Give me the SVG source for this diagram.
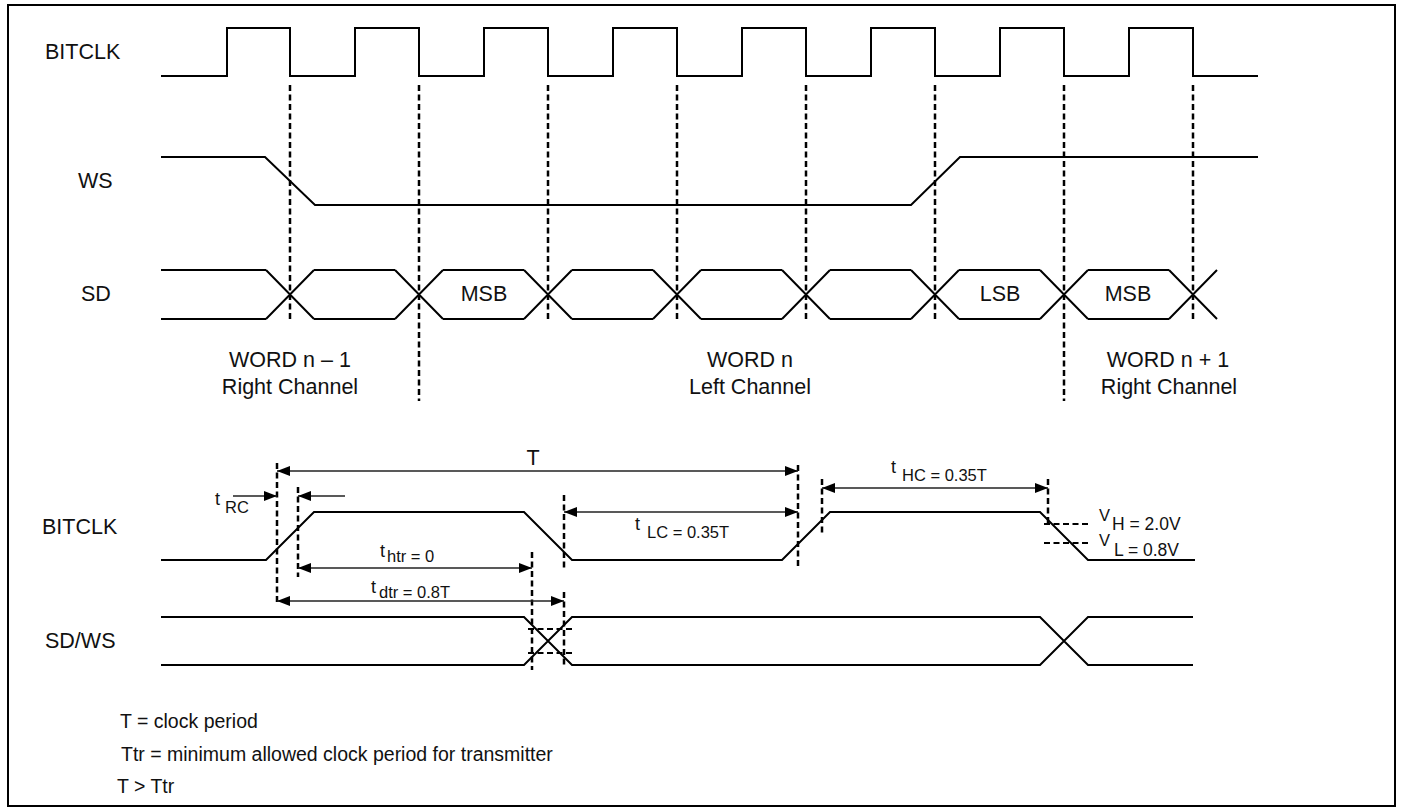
<svg xmlns="http://www.w3.org/2000/svg" width="1404" height="811" viewBox="0 0 1404 811">
<style>
  .sig{fill:none;stroke:#000;stroke-width:2;stroke-linejoin:miter}
  .dash{fill:none;stroke:#000;stroke-width:2.5;stroke-dasharray:6,3.5}
  .hdash{fill:none;stroke:#000;stroke-width:2;stroke-dasharray:6,3.5}
  .arr{fill:none;stroke:#222;stroke-width:1.4}
  .lbl{font-family:"Liberation Sans",Arial,sans-serif;font-size:21.5px;fill:#111}
  .note{font-family:"Liberation Sans",Arial,sans-serif;font-size:19.5px;fill:#111}
  .t{font-family:"Liberation Sans",Arial,sans-serif;font-size:18px;fill:#111}
  .sub{font-family:"Liberation Sans",Arial,sans-serif;font-size:16.5px;fill:#111}
  .mid{text-anchor:middle}
</style>
<defs>
  <marker id="ah" markerUnits="userSpaceOnUse" markerWidth="14" markerHeight="10" refX="13" refY="5" orient="auto-start-reverse">
    <path d="M0,0 L13,5 L0,10 z" fill="#000"/>
  </marker>
</defs>
<rect x="8" y="5" width="1387" height="801" fill="#fff" stroke="#000" stroke-width="2"/>

<g id="top-bitclk">
  <text class="lbl" x="45" y="59">BITCLK</text>
  <path class="sig" d="M161,76 H227 V28 H290 V76 H355 V28 H419 V76 H484 V28 H548 V76 H613 V28 H677 V76 H742 V28 H806 V76 H871 V28 H935 V76 H1000 V28 H1064 V76 H1129 V28 H1193 V76 H1258"/>
</g>

<g id="top-ws">
  <text class="lbl" x="78" y="188">WS</text>
  <path class="sig" d="M161,157 H265 L315,205 H911 L960,157 H1258"/>
</g>

<g id="top-sd">
  <text class="lbl" x="81" y="301">SD</text>
  <path class="sig" d="M161,270 H266 M314,270 H395 M443,270 H524 M572,270 H653 M701,270 H782 M830,270 H911 M959,270 H1040 M1088,270 H1169
    M161,319 H266 M314,319 H395 M443,319 H524 M572,319 H653 M701,319 H782 M830,319 H911 M959,319 H1040 M1088,319 H1169
    M266,270 L314,319 M266,319 L314,270
    M395,270 L443,319 M395,319 L443,270
    M524,270 L572,319 M524,319 L572,270
    M653,270 L701,319 M653,319 L701,270
    M782,270 L830,319 M782,319 L830,270
    M911,270 L959,319 M911,319 L959,270
    M1040,270 L1088,319 M1040,319 L1088,270
    M1169,270 L1217,319 M1169,319 L1217,270"/>
  <text class="lbl mid" x="484" y="301">MSB</text>
  <text class="lbl mid" x="1000" y="301">LSB</text>
  <text class="lbl mid" x="1128" y="301">MSB</text>
</g>

<g id="word-labels">
  <text class="lbl mid" x="290" y="367">WORD n – 1</text>
  <text class="lbl mid" x="290" y="394">Right Channel</text>
  <text class="lbl mid" x="750" y="367">WORD n</text>
  <text class="lbl mid" x="750" y="394">Left Channel</text>
  <text class="lbl mid" x="1168" y="367">WORD n + 1</text>
  <text class="lbl mid" x="1169" y="394">Right Channel</text>
</g>

<g id="top-guides">
  <path class="dash" d="M290,85 V320 M419,85 V401 M548,85 V320 M677,85 V320 M806,85 V320 M935,85 V320 M1064,85 V401 M1193,85 V320"/>
</g>

<g id="bottom-bitclk">
  <text class="lbl" x="42" y="534">BITCLK</text>
  <path class="sig" d="M161,560 H266 L314,512 H524 L572,560 H782 L830,512 H1040 L1088,560 H1195"/>
  <path class="hdash" d="M1044,524 H1090 M1044,543 H1090"/>
  <text class="sub" x="1099" y="521">V</text>
  <text class="sub" x="1112" y="530" style="font-size:17.5px">H = 2.0V</text>
  <text class="sub" x="1099" y="546">V</text>
  <text class="sub" x="1114" y="556" style="font-size:17.5px">L = 0.8V</text>
</g>

<g id="bottom-sdws">
  <text class="lbl" x="45" y="648">SD/WS</text>
  <path class="sig" d="M161,617 H524 L572,665 H1040 L1088,617 H1193 M161,665 H524 L572,617 H1040 L1088,665 H1193"/>
  <path class="hdash" d="M528,629 H574 M528,653 H574"/>
</g>

<g id="timing-guides">
  <path class="dash" d="M277,463 V604 M298,487 V577 M532,552 V670 M564,495 V568 M564,592 V667 M798,465 V568 M822,479 V533 M1048,479 V523"/>
</g>

<g id="connectors">
  <line class="arr" x1="277" y1="471" x2="798" y2="471" marker-start="url(#ah)" marker-end="url(#ah)"/>
  <line class="arr" x1="233" y1="496" x2="277" y2="496" marker-end="url(#ah)"/>
  <line class="arr" x1="345" y1="496" x2="298" y2="496" marker-end="url(#ah)"/>
  <line class="arr" x1="298" y1="568" x2="532" y2="568" marker-start="url(#ah)" marker-end="url(#ah)"/>
  <line class="arr" x1="277" y1="601" x2="564" y2="601" marker-start="url(#ah)" marker-end="url(#ah)"/>
  <line class="arr" x1="564" y1="512" x2="798" y2="512" marker-start="url(#ah)" marker-end="url(#ah)"/>
  <line class="arr" x1="822" y1="488" x2="1048" y2="488" marker-start="url(#ah)" marker-end="url(#ah)"/>
</g>

<g id="timing-labels">
  <text class="lbl mid" x="533" y="465">T</text>
  <text class="t" x="215" y="505">t</text>
  <text class="sub" x="225" y="513">RC</text>
  <text class="t" x="380" y="557">t</text>
  <text class="sub" x="387" y="562">htr = 0</text>
  <text class="t" x="371" y="593">t</text>
  <text class="sub" x="379" y="598">dtr = 0.8T</text>
  <text class="t" x="635" y="530">t</text>
  <text class="sub" x="647" y="538">LC = 0.35T</text>
  <text class="t" x="891" y="473">t</text>
  <text class="sub" x="902" y="481">HC = 0.35T</text>
</g>

<g id="notes">
  <text class="note" x="120" y="728">T = clock period</text>
  <text class="note" x="121" y="761">Ttr = minimum allowed clock period for transmitter</text>
  <text class="note" x="117" y="793">T &gt; Ttr</text>
</g>
</svg>
